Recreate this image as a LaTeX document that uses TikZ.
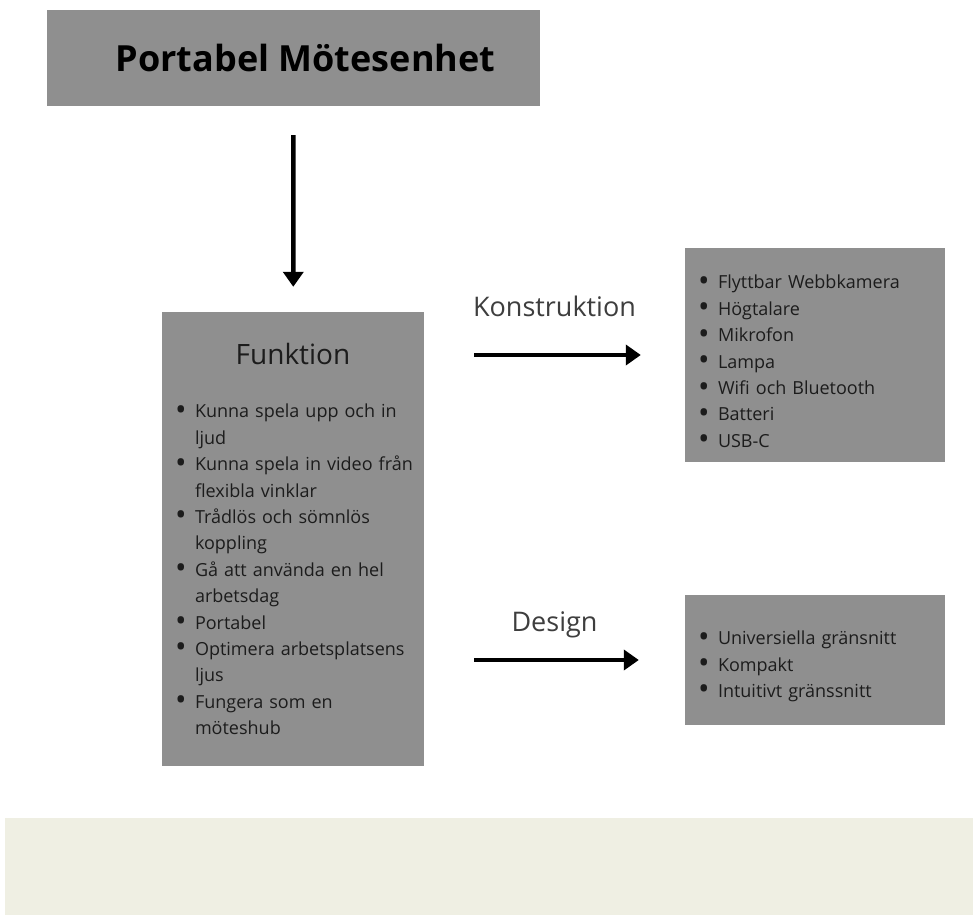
\documentclass[tikz,border=0pt]{standalone}
\usepackage{fontspec}
\setmainfont{Open Sans}
\usetikzlibrary{arrows.meta}
\definecolor{boxgrau}{RGB}{143,143,143}
\definecolor{bandfarbe}{RGB}{239,239,227}
\definecolor{textgrau}{RGB}{28,28,28}
\newlength\punktind
\setlength\punktind{22pt}
\newcommand\punkt[1]{\par\hangindent=\punktind\hangafter=1\noindent\makebox[\punktind][l]{\hspace{2pt}\smash{\raisebox{-2.5pt}{\scalebox{1.7}{\textbullet}}}}#1}
\begin{document}
\begin{tikzpicture}[x=1pt,y=-1pt,
	ruta/.style={fill=boxgrau, inner xsep=11pt, inner ysep=0pt, text=textgrau},
	lista/.style={ruta, text width=238pt, minimum width=260pt, align=left, font=\fontsize{18}{26.4}\selectfont},
	pil/.style={line width=4.5pt, -{Triangle[width=20pt,length=15pt]}},
	etikett/.style={inner sep=0pt, text depth=0pt, text=textgrau!85, font=\fontsize{27}{32}\selectfont}]
	\useasboundingbox (0,0) rectangle (973,915);
	\fill [white] (0,0) rectangle (973,915);
	\fill [bandfarbe] (5,818) rectangle (973,915);
	% rutor
	\node [ruta, minimum width=493pt, minimum height=96pt, text=black, font=\fontsize{36}{40}\selectfont\bfseries] (titel) at (293.5,58) {\hspace*{24pt}Portabel Mötesenhet};
	\node [lista, text width=240pt, minimum width=262pt, minimum height=454pt] (funktion) at (293,539) {%
		{\centering\fontsize{28}{34}\selectfont Funktion\par}\vspace{27pt}%
		\punkt{Kunna spela upp och in\newline ljud}
		\punkt{Kunna spela in video från\newline flexibla vinklar}
		\punkt{Trådlös och sömnlös\newline koppling}
		\punkt{Gå att använda en hel\newline arbetsdag}
		\punkt{Portabel}
		\punkt{Optimera arbetsplatsens\newline ljus}
		\punkt{Fungera som en\newline möteshub}\par};
	\node [lista, minimum height=214pt] (konstr) at (815,355) {%
		\punkt{Flyttbar Webbkamera}
		\punkt{Högtalare}
		\punkt{Mikrofon}
		\punkt{Lampa}
		\punkt{Wifi och Bluetooth}
		\punkt{Batteri}
		\punkt{USB-C}\par};
	\node [lista, minimum height=130pt] (design) at (815,660) {%
		\punkt{Universiella gränsnitt}
		\punkt{Kompakt}
		\punkt{Intuitivt gränssnitt}\par};
	% pilar
	\draw [pil, shorten <=29pt, shorten >=25pt] (titel) -- (funktion);
	\draw [pil, shorten <=50pt, shorten >=44pt] (funktion.east |- konstr.west) -- (konstr.west) node [etikett, midway, above=36pt] {Konstruktion};
	\draw [pil, shorten <=50pt, shorten >=46pt] (funktion.east |- design.west) -- (design.west) node [etikett, midway, above=26pt] {Design};
\end{tikzpicture}
\end{document}
